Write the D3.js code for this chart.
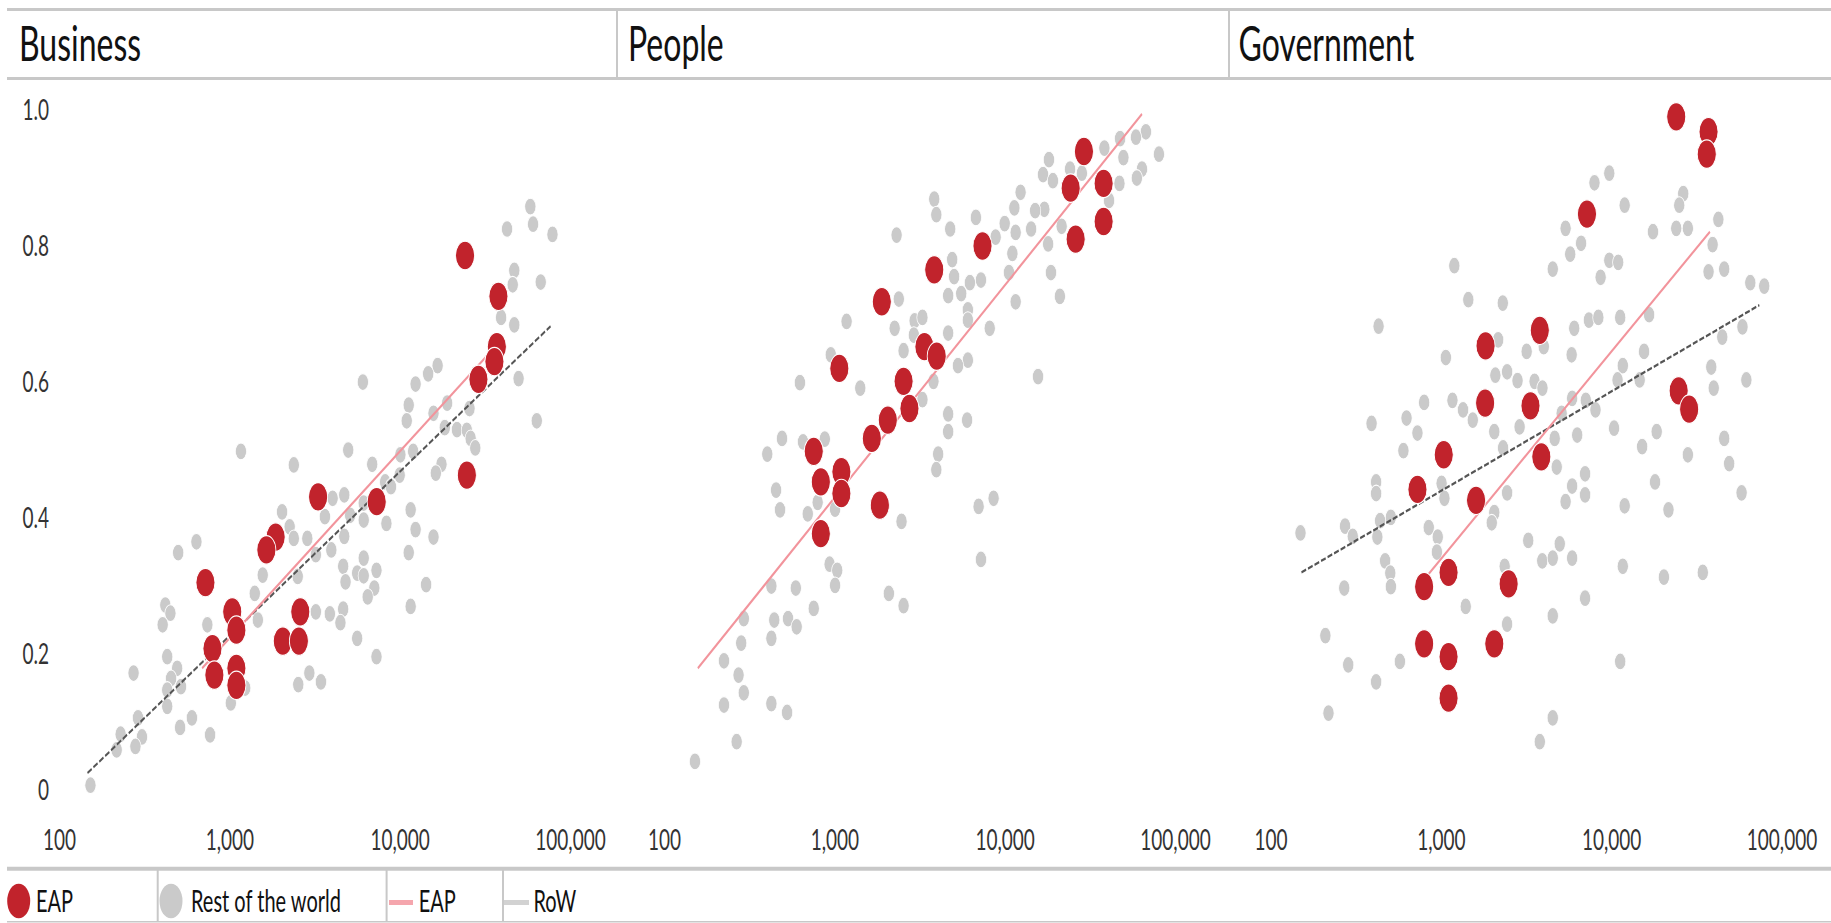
<!DOCTYPE html>
<html>
<head>
<meta charset="utf-8">
<script src="https://cdn.jsdelivr.net/npm/d3@7"></script>
<style>
  body { margin: 0; background: #fff; }
  svg { display: block; font-family: Lato, "Open Sans", sans-serif; }
</style>
</head>
<body>
<div class="canvas"></div>
<script>
// panel titles and axis ticks
const panelTitles = ["Business", "People", "Government"];
const xTickValues = [100, 1000, 10000, 100000];
const yTickValues = [0, 0.2, 0.4, 0.6, 0.8, 1.0];
const legendLabels = ["EAP", "Rest of the world", "EAP", "RoW"];

// [GDP per capita, score]
const businessEap = [[24200,0.786],[38000,0.726],[37200,0.652],[36000,0.630],[29000,0.604],[24800,0.463],[3320,0.431],[7330,0.424],[1870,0.372],[1650,0.353],[724,0.305],[1040,0.262],[1100,0.235],[2610,0.262],[2060,0.219],[2560,0.219],[796,0.208],[817,0.169],[1100,0.179],[1100,0.154]];

const businessRow = [[58500,0.858],[60700,0.832],[42700,0.825],[78900,0.817],[47100,0.764],[46100,0.743],[67300,0.747],[39400,0.695],[47100,0.684],[16700,0.624],[14700,0.612],[6080,0.600],[12400,0.597],[49900,0.605],[11300,0.566],[19000,0.569],[25700,0.561],[15800,0.554],[11000,0.543],[63800,0.543],[18400,0.533],[21700,0.530],[24800,0.529],[26100,0.517],[27800,0.503],[12000,0.498],[4990,0.500],[1170,0.498],
  [2390,0.478],[6900,0.479],[10100,0.493],[17600,0.479],[16300,0.466],[10000,0.463],[8220,0.453],[8890,0.446],[4730,0.434],[4040,0.429],[6150,0.422],[2040,0.409],[11600,0.412],[3640,0.402],[5120,0.404],[6150,0.397],[8360,0.392],[12400,0.383],[2260,0.387],[2390,0.370],[2870,0.370],[4730,0.373],[15800,0.372],[641,0.365],[501,0.349],[3220,0.346],[3970,0.353],[6150,0.341],[11300,0.349],[4660,0.329],[5630,0.319],[7310,0.323],[6150,0.315],[4810,0.306],[1570,0.316],[2520,0.314],[1410,0.289],[7100,0.297],[6490,0.284],[14300,0.302],
  [421,0.272],[451,0.260],[406,0.243],[743,0.243],[1470,0.250],[3220,0.262],[3890,0.259],[4660,0.266],[4490,0.246],[11600,0.270],[5630,0.223],[7310,0.196],[432,0.196],[494,0.179],[274,0.172],[455,0.164],[520,0.152],[432,0.147],[2950,0.172],[2540,0.155],[3450,0.159],[1240,0.150],[1020,0.128],[432,0.123],[291,0.106],[603,0.106],[514,0.092],[771,0.081],[230,0.082],[307,0.078],[218,0.059],[281,0.064],[153,0.007]];

const peopleEap = [[29200,0.939],[24400,0.885],[38100,0.892],[38100,0.836],[26100,0.810],[7410,0.800],[3860,0.765],[1900,0.718],[1070,0.620],[3380,0.652],[3990,0.638],[2550,0.601],[2760,0.561],[2060,0.544],[1660,0.517],[757,0.498],[1100,0.468],[833,0.453],[1100,0.436],[1850,0.419],[833,0.377]];

const peopleRow = [[67500,0.968],[59000,0.960],[47600,0.958],[38500,0.944],[80500,0.935],[49800,0.930],[18200,0.927],[16800,0.905],[19200,0.896],[24200,0.913],[28400,0.907],[64000,0.913],[59700,0.900],[47200,0.892],[12400,0.879],[11400,0.856],[17100,0.854],[15100,0.852],[41000,0.867],[3860,0.869],[3970,0.846],[6780,0.842],[10000,0.833],[14300,0.825],[11600,0.820],[21600,0.829],[4790,0.825],[8850,0.813],[2320,0.816],[18000,0.803],[11100,0.789],[4920,0.780],[10600,0.761],[18700,0.761],[5050,0.755],[7260,0.750],[6250,0.746],[4660,0.727],[5560,0.730],[21100,0.726],[2390,0.722],[11600,0.718],[1180,0.689],[6080,0.706],[6080,0.691],[2960,0.690],[3290,0.695],[2260,0.679],[8170,0.679],[4660,0.672],[2930,0.669],[2550,0.646],[6080,0.632],[5320,0.624],[15700,0.608],[953,0.640],[628,0.599],[1420,0.591],[3820,0.601],[3290,0.574],[4660,0.553],[6020,0.544],[4660,0.527],[493,0.517],[655,0.512],[879,0.516],[404,0.494],[4070,0.494],
  [3970,0.471],[455,0.441],[480,0.412],[798,0.423],[698,0.406],[1010,0.413],[2480,0.395],[7030,0.417],[8610,0.429],[7260,0.339],[938,0.332],[1040,0.323],[1010,0.301],[427,0.300],[594,0.297],[2090,0.289],[2550,0.271],[757,0.267],[294,0.252],[444,0.250],[535,0.252],[601,0.240],[427,0.223],[284,0.216],[225,0.190],[274,0.169],[294,0.143],[225,0.125],[427,0.127],[528,0.114],[267,0.071],[152,0.042]];

const governmentEap = [[24100,0.990],[37300,0.968],[36400,0.935],[7210,0.847],[3810,0.676],[1830,0.653],[1820,0.569],[3360,0.565],[24900,0.587],[28700,0.560],[1040,0.493],[3890,0.490],[729,0.442],[1610,0.426],[1110,0.320],[798,0.299],[2500,0.303],[798,0.215],[1110,0.196],[2060,0.215],[1110,0.135]];

const governmentRow = [[9750,0.907],[7980,0.893],[12000,0.860],[26500,0.877],[25100,0.860],[5400,0.826],[42600,0.839],[17600,0.821],[24100,0.826],[28200,0.826],[6660,0.804],[39400,0.802],[5750,0.788],[4540,0.766],[1200,0.771],[9750,0.779],[11000,0.776],[8670,0.754],[37300,0.762],[46100,0.766],[65600,0.746],[79200,0.741],[1450,0.721],[2310,0.716],[431,0.682],[6070,0.679],[7400,0.691],[8410,0.695],[11300,0.695],[16700,0.699],[59000,0.681],[44900,0.666],[2170,0.662],[1070,0.636],[3190,0.645],[4020,0.652],[5860,0.640],[15600,0.645],[11700,0.624],[38700,0.622],[2090,0.610],[2450,0.615],[2820,0.602],[3550,0.601],[3950,0.591],[10900,0.603],[14700,0.603],[62200,0.603],[40000,0.591],[798,0.570],[1170,0.573],[1350,0.559],[1540,0.544],[5900,0.576],[7100,0.573],[8090,0.559],[5120,0.554],[392,0.539],[629,0.547],[2060,0.527],[2900,0.534],[10400,0.532],[18500,0.527],[46100,0.517],[4660,0.517],[6320,0.522],[729,0.525],[15200,0.505],[603,0.499],[2320,0.503],[28200,0.493],
  [49300,0.480],[4790,0.475],[7030,0.465],[18100,0.453],[417,0.453],[417,0.436],[1010,0.451],[1050,0.429],[2450,0.437],[5900,0.447],[7030,0.434],[5400,0.424],[58300,0.437],[12000,0.418],[21700,0.412],[2060,0.408],[1990,0.393],[509,0.401],[440,0.396],[150,0.378],[274,0.388],[304,0.373],[424,0.372],[849,0.386],[959,0.372],[948,0.350],[3260,0.367],[4990,0.362],[3940,0.337],[4540,0.341],[5900,0.341],[471,0.337],[505,0.319],[509,0.299],[271,0.297],[11700,0.329],[20400,0.313],[34500,0.320],[2370,0.329],[1400,0.270],[7030,0.282],[4540,0.256],[2450,0.244],[210,0.227],[286,0.184],[575,0.189],[417,0.159],[219,0.113],[11300,0.189],[4540,0.106],[3810,0.071]];

// fitted lines, endpoints [GDP per capita, score]
const businessEapTrend = [[692,0.179],[38000,0.657]];
const businessRowTrend = [[147,0.025],[76900,0.682]];
const peopleEapTrend = [[158,0.179],[64000,0.994]];
const governmentEapTrend = [[736,0.299],[38000,0.821]];
const governmentRowTrend = [[152,0.320],[74100,0.713]];

const panels = [
  {title: panelTitles[0], eap: businessEap, row: businessRow, eapTrend: businessEapTrend, rowTrend: businessRowTrend},
  {title: panelTitles[1], eap: peopleEap, row: peopleRow, eapTrend: peopleEapTrend, rowTrend: null},
  {title: panelTitles[2], eap: governmentEap, row: governmentRow, eapTrend: governmentEapTrend, rowTrend: governmentRowTrend}
];

const W = 1831, H = 923;
const K = 1.5;              // the picture is stretched vertically
const v = px => px / K;     // page pixel (y) -> viewBox unit

const red = "#c1232c", grey = "#cacaca", pink = "#f2949c", dark = "#555", rule = "#c8c8c8";

const svg = d3.select('.canvas')
  .append('svg')
    .attr('width', W)
    .attr('height', H)
    .attr('viewBox', `0 0 ${W} ${H / K}`)
    .attr('preserveAspectRatio', 'none');

// header rules
svg.append('line').attr('x1', 7).attr('x2', W).attr('y1', v(9.5)).attr('y2', v(9.5))
  .attr('stroke', rule).attr('stroke-width', v(3));
svg.append('line').attr('x1', 7).attr('x2', W).attr('y1', v(78.5)).attr('y2', v(78.5))
  .attr('stroke', rule).attr('stroke-width', v(3));
[617, 1229].forEach(x => {
  svg.append('line').attr('x1', x).attr('x2', x).attr('y1', v(11)).attr('y2', v(77))
    .attr('stroke', rule).attr('stroke-width', 2);
});

const titleX = [19, 628, 1238.5];
const panelLeft = [59, 664, 1270.5];
const panelWidth = 511;

const y = d3.scaleLinear().domain([0, 1]).range([v(790), v(110)]);

const line = (x) => d3.line().x(d => x(d[0])).y(d => y(d[1]));

panels.forEach((p, i) => {
  const x = d3.scaleLog()
    .domain([100, 100000])
    .range([panelLeft[i], panelLeft[i] + panelWidth]);

  svg.append('text')
    .attr('x', titleX[i]).attr('y', v(61.5))
    .attr('font-size', 32).attr('fill', '#111')
    .text(p.title);

  // x axis labels
  const xAxis = svg.append('g')
    .attr('transform', `translate(0, ${v(830)})`)
    .call(d3.axisBottom(x).tickValues(xTickValues).tickFormat(d3.format(',')).tickSize(0).tickPadding(0));
  xAxis.select('.domain').remove();
  xAxis.selectAll('text').attr('font-size', 19).attr('fill', '#333').attr('font-family', 'Lato, sans-serif');

  if (i === 0) {
    const yAxis = svg.append('g')
      .attr('transform', 'translate(52, 0)')
      .call(d3.axisLeft(y).tickValues(yTickValues)
        .tickFormat(d => d === 0 ? '0' : d3.format('.1f')(d)).tickSize(0).tickPadding(3));
    yAxis.select('.domain').remove();
    yAxis.selectAll('text').attr('font-size', 19).attr('fill', '#333').attr('font-family', 'Lato, sans-serif');
  }

  const g = svg.append('g');

  g.selectAll('circle.row')
    .data(p.row)
    .enter().append('circle')
      .attr('class', 'row')
      .attr('cx', d => x(d[0]))
      .attr('cy', d => y(d[1]))
      .attr('r', 5.6)
      .attr('fill', grey)
      .attr('stroke', '#fff')
      .attr('stroke-width', 0.7);

  if (p.rowTrend) {
    g.append('path').datum(p.rowTrend)
      .attr('d', line(x))
      .attr('fill', 'none').attr('stroke', dark).attr('stroke-width', 1.6)
      .attr('stroke-dasharray', '5,2');
  }
  g.append('path').datum(p.eapTrend)
    .attr('d', line(x))
    .attr('fill', 'none').attr('stroke', pink).attr('stroke-width', 1.7);

  g.selectAll('circle.eap')
    .data(p.eap)
    .enter().append('circle')
      .attr('class', 'eap')
      .attr('cx', d => x(d[0]))
      .attr('cy', d => y(d[1]))
      .attr('r', 9.5)
      .attr('fill', red)
      .attr('stroke', '#fff')
      .attr('stroke-width', 0.8);
});

// legend
svg.append('line').attr('x1', 7).attr('x2', W).attr('y1', v(868.7)).attr('y2', v(868.7))
  .attr('stroke', rule).attr('stroke-width', v(4));
svg.append('line').attr('x1', 7).attr('x2', W).attr('y1', v(921.8)).attr('y2', v(921.8))
  .attr('stroke', rule).attr('stroke-width', v(1.6));
[157.7, 386.6, 503].forEach(x => {
  svg.append('line').attr('x1', x).attr('x2', x).attr('y1', v(870)).attr('y2', v(921))
    .attr('stroke', rule).attr('stroke-width', 2);
});

const legend = svg.append('g');
legend.append('circle').attr('cx', 18.7).attr('cy', v(901)).attr('r', 11.5).attr('fill', red);
legend.append('circle').attr('cx', 171).attr('cy', v(901)).attr('r', 11.5).attr('fill', grey);
legend.append('line').attr('x1', 389).attr('x2', 413).attr('y1', v(902.5)).attr('y2', v(902.5))
  .attr('stroke', '#f5a6ad').attr('stroke-width', 3.3);
legend.append('line').attr('x1', 504).attr('x2', 529).attr('y1', v(902.5)).attr('y2', v(902.5))
  .attr('stroke', '#d2d2d2').attr('stroke-width', 3.3);

const legendTextX = [36, 191, 418.7, 533.5];
legend.selectAll('text')
  .data(legendLabels)
  .enter().append('text')
    .attr('x', (d, i) => legendTextX[i])
    .attr('y', v(912))
    .attr('font-size', 20)
    .attr('fill', '#111')
    .text(d => d);
</script>
</body>
</html>
